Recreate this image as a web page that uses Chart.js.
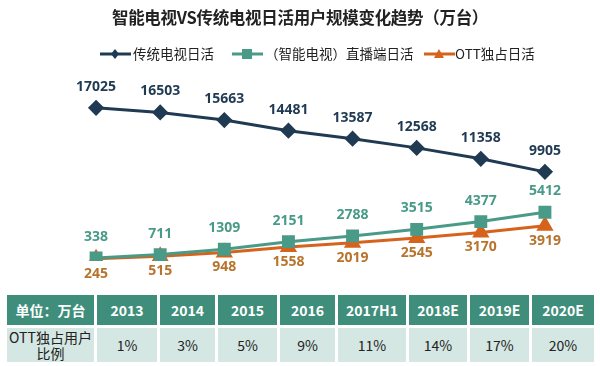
<!DOCTYPE html>
<html><head><meta charset="utf-8">
<script src="https://cdn.jsdelivr.net/npm/chart.js@4"></script>
<style>
body{margin:0;background:#fff;width:600px;height:366px;overflow:hidden;position:relative;font-family:"Noto Sans CJK SC","Noto Sans",sans-serif;}
#title{position:absolute;left:0;top:5px;width:600px;text-align:center;font-size:16.5px;font-weight:bold;color:#222;letter-spacing:-0.3px;}
#legend{position:absolute;top:44px;left:0;width:600px;height:20px;}
.li{position:absolute;top:0;height:20px;line-height:20px;font-size:13.5px;color:#222;white-space:nowrap;}
.li svg{position:absolute;left:0;top:3px;}
.li span{position:absolute;top:-1px;}
#wrap{position:absolute;left:0;top:0;width:600px;height:290px;}
.cell{position:absolute;display:flex;align-items:center;justify-content:center;text-align:center;font-size:14px;line-height:16px;}
.hd{background:#3f8e7b;color:#fff;font-weight:bold;}
.bd{background:#d4e7e2;color:#222;}
</style></head>
<body>
<div id="wrap"><canvas id="c" width="600" height="290"></canvas></div>
<div id="title">智能电视VS传统电视日活用户规模变化趋势（万台）</div>
<div id="legend"></div>
<div id="table"></div>
<script>
const categories = ["2013","2014","2015","2016","2017H1","2018E","2019E","2020E"];
const traditional = [17025,16503,15663,14481,13587,12568,11358,9905];
const smartLive = [338,711,1309,2151,2788,3515,4377,5412];
const ottOnly = [245,515,948,1558,2019,2545,3170,3919];
const ottRatio = ["1%","3%","5%","9%","11%","14%","17%","20%"];
const seriesNames = ["传统电视日活","（智能电视）直播端日活","OTT独占日活"];
const tableCorner = "单位：万台";
const tableRowLabel = "OTT独占用户<br>比例";

const colors = ["#1f3a52","#4a9a88","#d6631c"];
const labelColors = ["#1f3a52","#4a9a88","#b8732c"];

// legend
const legendPos = [[100,133],[232,265],[424,455]];
const markerSvg = [
 '<polygon points="15,2 19,7 15,12 11,7" fill="'+colors[0]+'"/>',
 '<rect x="10" y="2" width="10" height="10" fill="'+colors[1]+'"/>',
 '<polygon points="15,2 20,11 10,11" fill="'+colors[2]+'"/>'
];
const lg = document.getElementById('legend');
seriesNames.forEach((n,i)=>{
  const d=document.createElement('div');d.className='li';d.style.left=legendPos[i][0]+'px';
  d.innerHTML='<svg width="31" height="14"><line x1="0" y1="7" x2="31" y2="7" stroke="'+colors[i]+'" stroke-width="3"/>'+markerSvg[i]+'</svg><span style="left:'+(legendPos[i][1]-legendPos[i][0])+'px">'+n+'</span>';
  lg.appendChild(d);
});

// table
const colX = [[7,94],[97,157],[160,215],[218,277],[280,335],[338,406],[409,467],[470,529],[532,594]];
const tb = document.getElementById('table');
function cell(cls,x,y,w,h,html){const d=document.createElement('div');d.className='cell '+cls;d.style.left=x+'px';d.style.top=y+'px';d.style.width=w+'px';d.style.height=h+'px';d.innerHTML=html;tb.appendChild(d);}
const hdr=[tableCorner].concat(categories), row=[tableRowLabel].concat(ottRatio);
colX.forEach((c,i)=>{
  cell('hd',c[0],295,c[1]-c[0],30,hdr[i]);
  cell('bd',c[0],328,c[1]-c[0],34,row[i]);
});

const labelPlugin={id:'lbl',afterDatasetsDraw(chart){
  const ctx=chart.ctx;ctx.save();
  ctx.font='bold 14px "Open Sans", sans-serif';ctx.textAlign='center';ctx.textBaseline='middle';
  const offs=[-21,-21,15];
  chart.data.datasets.forEach((ds,di)=>{
    const meta=chart.getDatasetMeta(di);
    ctx.fillStyle=labelColors[di];
    meta.data.forEach((p,i)=>{ctx.fillText(String(ds.data[i]),p.x,p.y+offs[di]);});
  });
  ctx.restore();
}};

new Chart(document.getElementById('c'),{
  type:'line',
  data:{labels:categories,datasets:[
    {label:seriesNames[0],data:traditional,borderColor:colors[0],backgroundColor:colors[0],borderWidth:3,pointStyle:'rectRot',pointRadius:6,pointHoverRadius:6},
    {label:seriesNames[1],data:smartLive,borderColor:colors[1],backgroundColor:colors[1],borderWidth:3,pointStyle:'rect',pointRadius:7,pointHoverRadius:7},
    {label:seriesNames[2],data:ottOnly,borderColor:colors[2],backgroundColor:colors[2],borderWidth:3,pointStyle:'triangle',pointRadius:7,pointHoverRadius:7}
  ]},
  options:{responsive:false,animation:false,
    layout:{padding:{left:64,right:23,top:81,bottom:29}},
    plugins:{legend:{display:false},tooltip:{enabled:false},title:{display:false}},
    scales:{x:{display:false,offset:true},y:{display:false,min:0,max:20000}}
  },
  plugins:[labelPlugin]
});
</script>
</body></html>
